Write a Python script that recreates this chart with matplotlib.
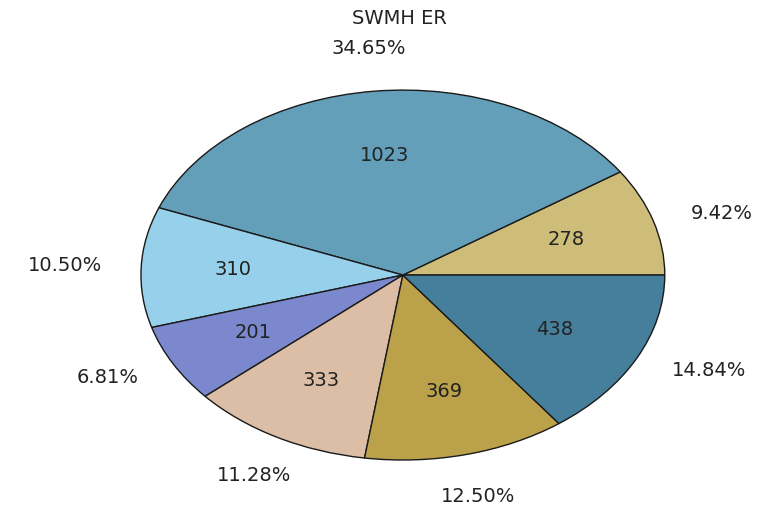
import numpy as np
import matplotlib
matplotlib.use("Agg")
import matplotlib.pyplot as plt

# slice counts, counter-clockwise from 3 o'clock
counts = [278, 1023, 310, 201, 333, 369, 438]
colors = ["#CDBD78", "#639FB9", "#97D0EA", "#7B88CE", "#DBBEA5", "#BBA24A", "#467F9C"]
title = "SWMH ER"


def main():
    plt.rcParams["font.family"] = ["DejaVu Sans"]
    fig = plt.figure(figsize=(7.64, 5.07), dpi=100)
    ax = fig.add_axes([0.0988, 0.0015, 0.857, 0.912])

    total = sum(counts)
    pct_labels = [f"{c / total * 100:.2f}%" for c in counts]

    wedges, _ = ax.pie(
        counts, colors=colors, startangle=0, counterclock=True,
        wedgeprops={"edgecolor": "#1a1a1a", "linewidth": 1.0},
    )

    for w, c, p in zip(wedges, counts, pct_labels):
        mid = np.deg2rad((w.theta1 + w.theta2) / 2)
        cx, cy = np.cos(mid), np.sin(mid)
        # count inside the slice
        ax.text(0.65 * cx, 0.65 * cy, str(c), ha="center", va="center",
                fontsize=14, color="#222222")
        # percentage outside
        if abs(cx) > 0.7:
            ax.text(1.15 * cx, 1.15 * cy, p, fontsize=14, color="#222222",
                    ha="left" if cx > 0 else "right", va="center")
        else:
            ax.text(1.18 * cx, 1.18 * cy, p, fontsize=14, color="#222222",
                    ha="center", va="bottom" if cy > 0 else "top")

    ax.set_aspect("auto")
    ax.set_xlim(-1.25, 1.25)
    ax.set_ylim(-1.25, 1.25)
    ax.axis("off")

    fig.text(0.523, 0.964, title, ha="center", va="center",
             fontsize=14, color="#222222")

    fig.savefig("out.png", dpi=100)


if __name__ == "__main__":
    main()
